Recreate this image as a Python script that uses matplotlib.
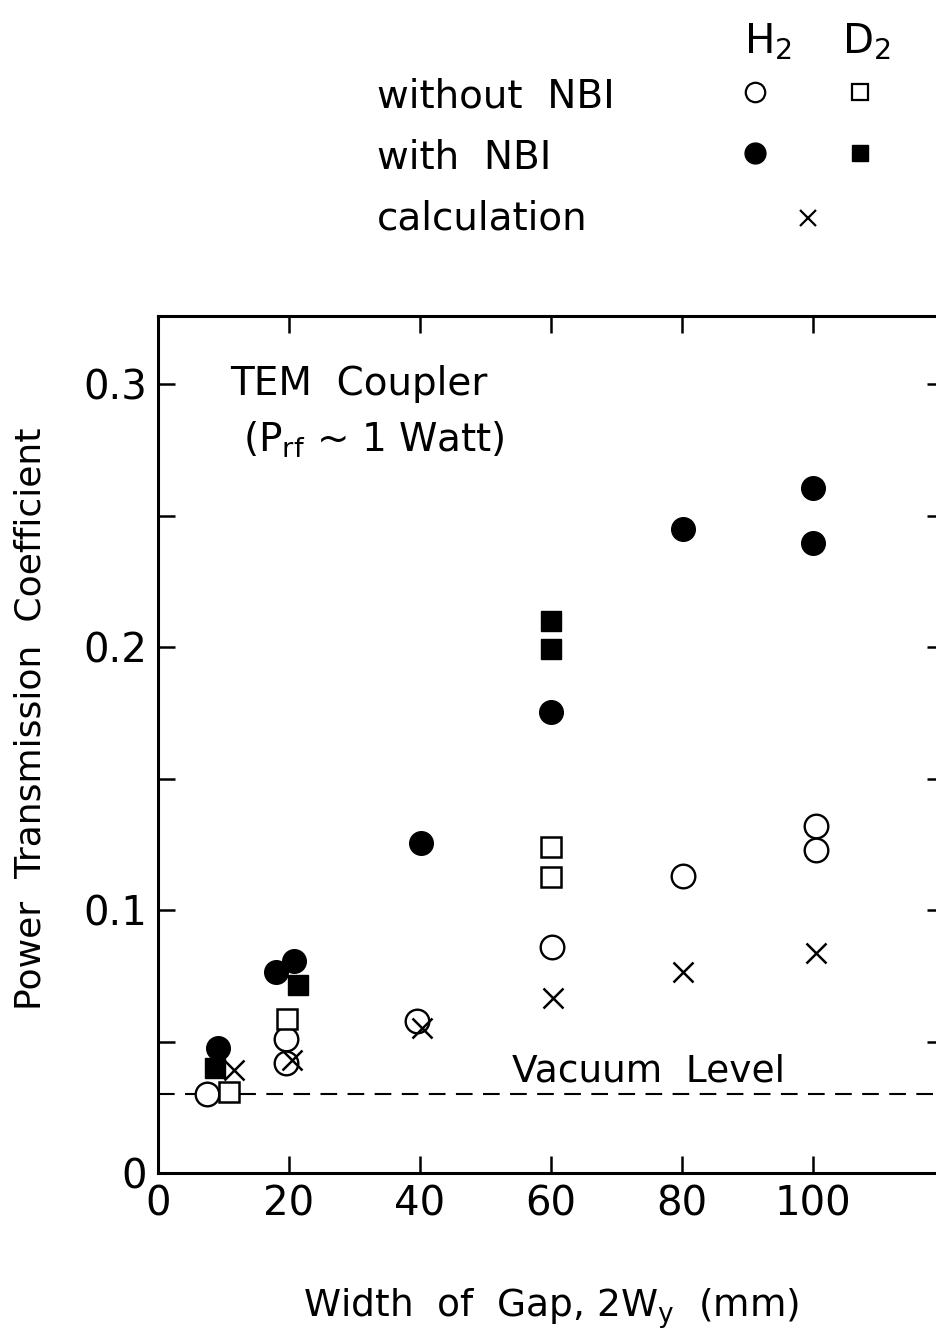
import matplotlib
matplotlib.use("Agg")
import matplotlib.pyplot as plt
from matplotlib.ticker import MultipleLocator, FuncFormatter

plt.rcParams['font.family'] = ['DejaVu Sans']

# data: gap width (mm) and transmission coefficient
h2_off_x = [7.5, 19.6, 19.6, 39.5, 60.2, 80.2, 100.5, 100.5]
h2_off_y = [0.030, 0.051, 0.042, 0.058, 0.086, 0.113, 0.132, 0.123]
d2_off_x = [10.8, 19.7, 60.0, 60.0]
d2_off_y = [0.031, 0.0585, 0.124, 0.1125]
h2_on_x = [9.2, 18.0, 20.8, 40.2, 60.0, 80.2, 100.0, 100.0]
h2_on_y = [0.0475, 0.0765, 0.0805, 0.1255, 0.1755, 0.245, 0.2605, 0.2395]
d2_on_x = [8.7, 21.3, 60.0, 60.0]
d2_on_y = [0.040, 0.0715, 0.210, 0.1995]
calc_x = [11.6, 20.5, 40.3, 60.3, 80.2, 100.5]
calc_y = [0.039, 0.043, 0.055, 0.0665, 0.0765, 0.0835]
vacuum_level = 0.030
x_ticks = [0, 20, 40, 60, 80, 100]

fig = plt.figure(figsize=(9.37, 13.40), dpi=100)
ax = fig.add_axes([158 / 937, 1 - 1173 / 1340, 786 / 937, (1173 - 316) / 1340])

ax.plot(h2_off_x, h2_off_y, 'o', ms=17, mfc='white', mec='black', mew=1.7, ls='none', zorder=3)
ax.plot(d2_off_x, d2_off_y, 's', ms=14, mfc='white', mec='black', mew=1.8, ls='none', zorder=3)
ax.plot(h2_on_x, h2_on_y, 'o', ms=17, mfc='black', mec='black', ls='none', zorder=3)
ax.plot(d2_on_x, d2_on_y, 's', ms=14, mfc='black', mec='black', ls='none', zorder=3)
ax.plot(calc_x, calc_y, 'x', ms=14, mec='black', mew=1.8, ls='none', zorder=4)
ax.axhline(vacuum_level, color='black', ls=(0, (8, 5)), lw=1.5)

ax.set_xlim(0, 120)
ax.set_ylim(0, 0.326)
ax.set_xticks(x_ticks)
ax.yaxis.set_major_locator(MultipleLocator(0.1))
ax.yaxis.set_minor_locator(MultipleLocator(0.05))
ax.yaxis.set_major_formatter(FuncFormatter(lambda v, p: '0' if v == 0 else f'{v:.1f}'))
ax.tick_params(which='both', direction='in', top=True, right=True, length=12, width=1.8,
               labelsize=29, pad=8)
for s in ax.spines.values():
    s.set_linewidth(2.2)

ax.set_ylabel('Power  Transmission  Coefficient', fontsize=26)
ax.yaxis.set_label_coords(-0.14, 0.53)
ax.set_xlabel(r'Width  of  Gap, 2W$_\mathrm{y}$  (mm)', fontsize=27, labelpad=45)

ax.text(11, 0.300, 'TEM  Coupler', fontsize=28, va='center')
ax.text(13, 0.279, r'(P$_\mathrm{rf}$ ~ 1 Watt)', fontsize=28, va='center')
ax.text(54, 0.0385, 'Vacuum  Level', fontsize=27, va='center')

# legend block above the axes
fig.text(377 / 937, 1 - 97 / 1340, 'without  NBI', fontsize=28, va='center')
fig.text(377 / 937, 1 - 158 / 1340, 'with  NBI', fontsize=28, va='center')
fig.text(377 / 937, 1 - 218 / 1340, 'calculation', fontsize=28, va='center')
fig.text(768 / 937, 1 - 42 / 1340, r'H$_2$', fontsize=29, ha='center', va='center')
fig.text(866 / 937, 1 - 42 / 1340, r'D$_2$', fontsize=29, ha='center', va='center')

lax = fig.add_axes([0, 0, 1, 1], zorder=-1)
lax.set_xlim(0, 937)
lax.set_ylim(1340, 0)
lax.axis('off')
lax.plot([755], [92], 'o', ms=14, mfc='white', mec='black', mew=1.6)
lax.plot([860], [92], 's', ms=11, mfc='white', mec='black', mew=1.6)
lax.plot([755], [153], 'o', ms=15, mfc='black', mec='black')
lax.plot([860], [153], 's', ms=11, mfc='black', mec='black')
lax.plot([808], [218], 'x', ms=12, mec='black', mew=1.6)

fig.savefig('out.png', dpi=100)
